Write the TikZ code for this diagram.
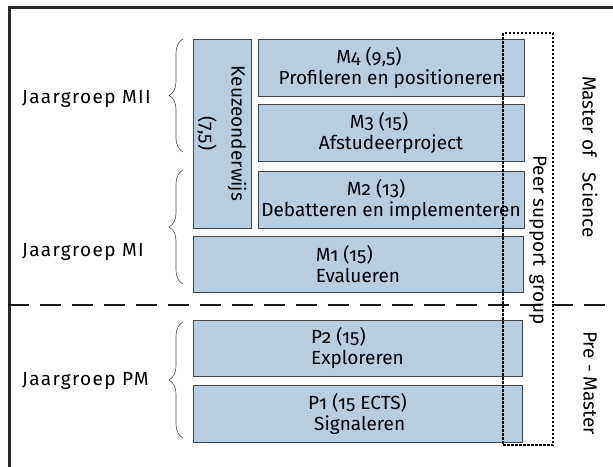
\documentclass[tikz,border=0pt]{standalone}
\usepackage{fontspec}
\setmainfont[Numbers=OldStyle]{Fira Sans}
\usetikzlibrary{decorations.pathreplacing}
\definecolor{boxblue}{RGB}{183,205,224}
\definecolor{framegray}{RGB}{40,40,40}
\definecolor{boxedge}{RGB}{70,70,70}
\begin{document}
\begin{tikzpicture}[x=1pt,y=-1pt,
  mod/.style={draw=boxedge, line width=0.8pt, fill=boxblue, inner sep=0pt, align=center,
    font=\fontsize{19}{21}\selectfont, minimum height=57pt},
  lbl/.style={font=\fontsize{19}{21}\selectfont, inner sep=0pt},
  grplbl/.style={font=\fontsize{19}{21}\selectfont\addfontfeature{LetterSpace=7}, inner sep=0pt, anchor=west},
  grpbrace/.style={decorate, decoration={brace, amplitude=14pt}, draw=black!70, line width=0.6pt},
  divider/.style={draw=black!90, line width=2pt, dash pattern=on 21pt off 11pt},
  peerbox/.style={draw=black, line width=1.1pt, dash pattern=on 2.5pt off 1.5pt},
  outerframe/.style={draw=framegray, line width=3pt}
]
\useasboundingbox (0,0) rectangle (613,466);
\fill[white] (0,0) rectangle (613,466);
% outer frame (cut by the page)
\draw[outerframe] (9,470) -- (9,7) -- (620,7);

% modules
\node[mod, rotate=-90, minimum width=189pt, minimum height=58pt] (K) at (222,133.5)
  {Keuzeonderwijs\\[10pt](7,5)};
\node[mod, minimum width=266pt] (M4) at (391,67.5) {M4 (9,5)\kern44pt\\Profileren en positioneren};
\node[mod, minimum width=266pt] (M3) at (391,132.5) {M3 (15)\kern24pt\\Afstudeerproject};
\node[mod, minimum width=266pt] (M2) at (391,199.5) {M2 (13)\kern30pt\\Debatteren en implementeren};
\node[mod, minimum width=330pt, minimum height=56pt, align=left] (M1) at (358,264) {M1 (15)\\Evalueren};
\node[mod, minimum width=329pt, minimum height=56pt, align=left] (P2) at (357.5,348) {P2 (15)\\Exploreren};
\node[mod, minimum width=329pt, align=left] (P1) at (357.5,413.5) {P1 (15 ECTS)\\\hspace*{6pt}Signaleren};

% group labels and braces
\node[grplbl] (JMII) at (22,99) {Jaargroep MII};
\node[grplbl] (JMI) at (22,252) {Jaargroep MI};
\node[grplbl] (JPM) at (22,381) {Jaargroep PM};
\draw[grpbrace] (183,152) -- (183,39);
\draw[grpbrace] (183,284) -- (183,170);
\draw[grpbrace] (183,438) -- (183,322);

% divider
\draw[divider] (8,305) -- (613,305);

% peer support group
\draw[peerbox] (503,33) rectangle (553,445);
\node[lbl, rotate=-90] (PSG) at (538,240) {Peer support\hspace{8pt}group};

% phase labels
\node[lbl, rotate=-90] (MSC) at (590,157) {Master of\hspace{16pt}Science};
\node[lbl, rotate=-90] (PRE) at (590,383) {Pre - Master};
\end{tikzpicture}
\end{document}
